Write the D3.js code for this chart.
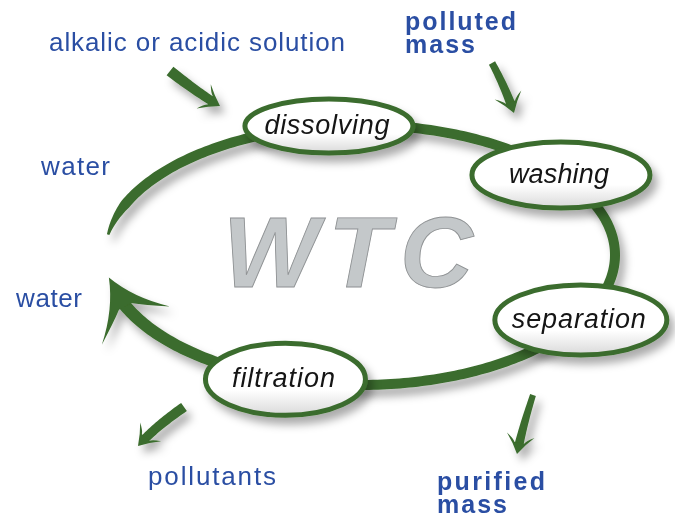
<!DOCTYPE html>
<html>
<head>
<meta charset="utf-8">
<script src="https://cdn.jsdelivr.net/npm/d3@7"></script>
<style>
  body { margin: 0; background: #fff; }
  svg { display: block; }
</style>
</head>
<body>
<svg id="chart" width="675" height="517"></svg>
<script>
// the four steps of the cycle, in order
const steps = ["dissolving", "washing", "separation", "filtration"]
// streams entering / leaving the cycle
const flowLabels = [["alkalic or acidic solution"], ["polluted", "mass"], ["purified", "mass"], ["pollutants"], ["water"], ["water"]]
const flowBold = [false, true, true, false, false, false]
const title = "WTC"

// layout (kept apart from the labels)
const loop = { cx: 360, cy: 255, rx: 255, ry: 130, start: -171, end: 170 }
const stepAngles = [-97, -38, 30, 107]
const stepRadii = [[84, 27], [89, 33], [86, 35], [80, 36]]
const stepTextWidths = [125, 100, 134, 103]
const labelPos = [[49, 51, 296], [405, 30, 111, 70], [437, 490, 108, 70], [148, 485, 128], [41, 175, 69], [16, 307, 66]]
// small arrows: start, control, tip, tail width, head width
const arrows = [
  [[170, 71], [198, 93], [220, 106], 11, 9],
  [[492, 63], [506, 89], [514, 113], 7, 9],
  [[533, 395], [522, 429], [517, 454], 6, 9],
  [[184, 407], [155, 427], [138, 446], 10, 9]
]

const green = "#3b6c2d", blue = "#2a4ea3"
const svg = d3.select("#chart")

// Shared defs: shadow + node fill
const defs = svg.append("defs")
defs.append("filter").attr("id", "shadow")
  .attr("x", "-20%").attr("y", "-20%").attr("width", "150%").attr("height", "160%")
  .append("feDropShadow")
  .attr("dx", 5).attr("dy", 7).attr("stdDeviation", 4.5)
  .attr("flood-color", "#000").attr("flood-opacity", 0.33)
const grad = defs.append("linearGradient").attr("id", "nodefill")
  .attr("x1", 0).attr("y1", 0).attr("x2", 0).attr("y2", 1)
grad.append("stop").attr("offset", "0").attr("stop-color", "#fff")
grad.append("stop").attr("offset", "0.65").attr("stop-color", "#fff")
grad.append("stop").attr("offset", "1").attr("stop-color", "#d9d9d9")

const rad = d3.scaleLinear().domain([0, 180]).range([0, Math.PI])
const ringPt = a => [loop.cx + loop.rx * Math.cos(rad(a)), loop.cy + loop.ry * Math.sin(rad(a))]
const poly = d3.line().curve(d3.curveLinearClosed)

/**
 * Turns a polyline into a filled band whose width may change along it.
 */
let strip = (pts, widthAt) => {
  const left = [], right = []
  pts.forEach((p, i) => {
    const a = pts[Math.max(0, i - 1)], b = pts[Math.min(pts.length - 1, i + 1)]
    const dx = b[0] - a[0], dy = b[1] - a[1], n = Math.hypot(dx, dy) || 1
    const w = widthAt(i / (pts.length - 1)) / 2
    left.push([p[0] - dy / n * w, p[1] + dx / n * w])
    right.push([p[0] + dy / n * w, p[1] - dx / n * w])
  })
  return left.concat(right.reverse())
}

// swoosh arrow head, tip at origin pointing along +x; k = how much the sides bow in
let headPath = (L, H, s, k) =>
  `M0,0 Q${-0.55 * L},${k * H} ${-L},${H} Q${-0.75 * L},${0.45 * H} ${-0.6 * L},${s}` +
  ` L${-0.6 * L},${-s} Q${-0.75 * L},${-0.45 * H} ${-L},${-H} Q${-0.55 * L},${-k * H} 0,0Z`

let drawHead = (g, tip, from, L, H, s, k) => {
  const ang = Math.atan2(tip[1] - from[1], tip[0] - from[0]) * 180 / Math.PI
  g.append("path")
    .attr("d", headPath(L, H, s, k))
    .attr("transform", `translate(${tip[0]},${tip[1]}) rotate(${ang})`)
    .attr("fill", green)
}

// Title in the middle
svg.append("text")
  .attr("x", 348).attr("y", 287)
  .attr("text-anchor", "middle")
  .attr("font-family", "Liberation Sans, Arial, sans-serif")
  .attr("font-weight", "bold").attr("font-style", "italic")
  .attr("font-size", 101)
  .attr("textLength", 250).attr("lengthAdjust", "spacing")
  .attr("fill", "#c4c8ca").attr("stroke", "#8f9294").attr("stroke-width", 0.9)
  .text(title)

// The loop, with a tapered tail and a big head
const ringG = svg.append("g").attr("filter", "url(#shadow)")
const L = 55, tip = ringPt(loop.end)
let shaftEnd = loop.end
while (Math.hypot(ringPt(shaftEnd)[0] - tip[0], ringPt(shaftEnd)[1] - tip[1]) < 0.5 * L) shaftEnd -= 0.5
const angles = d3.range(loop.start, shaftEnd + 0.01, 1)
const ringWidth = d3.scaleLinear()
  .domain([loop.start, loop.start + 14, 90, shaftEnd])
  .range([2.5, 10, 10, 12.5]).clamp(true)
ringG.append("path")
  .attr("d", poly(strip(angles.map(ringPt), t => ringWidth(angles[0] + t * (angles[angles.length - 1] - angles[0])))))
  .attr("fill", green)
drawHead(ringG, tip, ringPt(loop.end - 12), L, 39, 7, 0.3)

// Small in/out arrows
const arrowG = svg.append("g").attr("filter", "url(#shadow)")
arrows.forEach(([p0, c, p1, w0, w1]) => {
  const bez = t => [
    (1 - t) * (1 - t) * p0[0] + 2 * t * (1 - t) * c[0] + t * t * p1[0],
    (1 - t) * (1 - t) * p0[1] + 2 * t * (1 - t) * c[1] + t * t * p1[1]
  ]
  const hl = 19
  let tEnd = 1
  while (Math.hypot(bez(tEnd)[0] - p1[0], bez(tEnd)[1] - p1[1]) < 0.5 * hl) tEnd -= 0.01
  const pts = d3.range(0, 1.0001, 0.05).map(t => bez(t * tEnd))
  const wScale = d3.scaleLinear().domain([0, 1]).range([w0, w1])
  arrowG.append("path").attr("d", poly(strip(pts, wScale))).attr("fill", green)
  drawHead(arrowG, p1, c, hl, 14, 5, 0.45)
})

// Step nodes
const nodes = svg.selectAll(".step").data(steps).enter().append("g").attr("class", "step")
nodes.each(function (d, i) {
  const [x, y] = ringPt(stepAngles[i])
  const g = d3.select(this)
  g.append("ellipse")
    .attr("cx", x).attr("cy", y)
    .attr("rx", stepRadii[i][0]).attr("ry", stepRadii[i][1])
    .attr("fill", "url(#nodefill)")
    .attr("stroke", green).attr("stroke-width", 5)
    .attr("filter", "url(#shadow)")
  g.append("text")
    .attr("x", x - 2).attr("y", y + 8)
    .attr("text-anchor", "middle")
    .attr("font-family", "Liberation Sans, Arial, sans-serif")
    .attr("font-style", "italic").attr("font-size", 27)
    .attr("textLength", stepTextWidths[i]).attr("lengthAdjust", "spacing")
    .attr("fill", "#151515")
    .text(d)
})

// Flow labels
flowLabels.forEach((lines, i) => {
  const [x, y, w0, w1] = labelPos[i]
  lines.forEach((line, j) => {
    svg.append("text")
      .attr("x", x).attr("y", y + j * 23)
      .attr("font-family", "Liberation Sans, Arial, sans-serif")
      .attr("font-weight", flowBold[i] ? "bold" : "normal")
      .attr("font-size", flowBold[i] ? 25 : 26)
      .attr("textLength", j === 0 ? w0 : w1).attr("lengthAdjust", "spacing")
      .attr("fill", blue)
      .text(line)
  })
})
</script>
</body>
</html>
